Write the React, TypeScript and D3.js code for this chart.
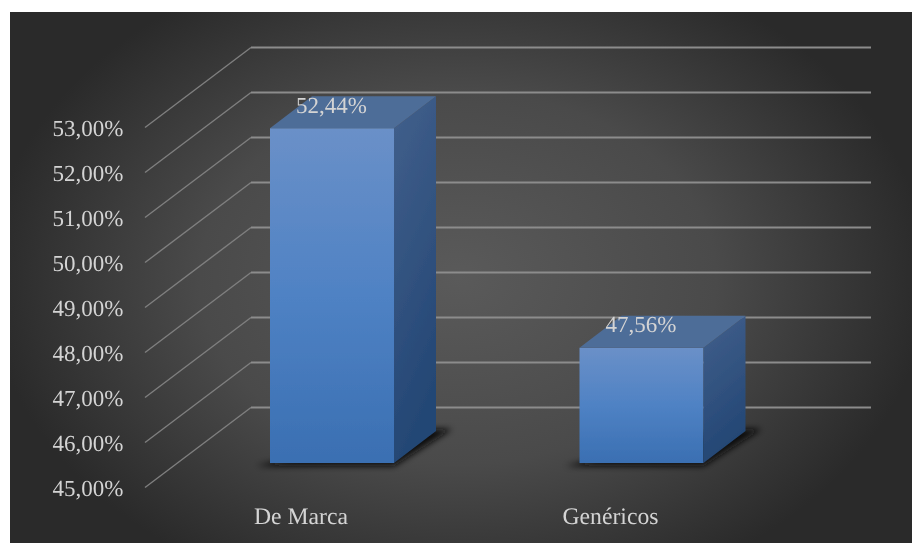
import React from "react";
import * as d3 from "d3";

const categories = ["De Marca", "Genéricos"];
const values = [52.44, 47.56];
const valueLabels = ["52,44%", "47,56%"];
const yTicks = [45, 46, 47, 48, 49, 50, 51, 52, 53];
const barLeft = [270, 579.5];

const W = 912, H = 543;
const font = "'Liberation Serif','Times New Roman',serif";

export default function App() {
  const yFront = d3.scaleLinear().domain([45, 53]).range([487.5, 127.5]);
  const yBack = d3.scaleLinear().domain([45, 53]).range([407.5, 47.5]);
  const yBar = d3.scaleLinear().domain([45, 53]).range([463, 103]);
  const bw = 124, dx = 42, dy = 32;
  const tickFmt = (t: number) => t.toFixed(2).replace(".", ",") + "%";
  return (
    <svg width={W} height={H} style={{ position: "absolute", left: 0, top: 0 }} textRendering="geometricPrecision">
      <defs>
        <radialGradient id="bg" gradientUnits="userSpaceOnUse" cx={458} cy={278} r={470} gradientTransform="translate(458 278) scale(1 0.72) translate(-458 -278)">
          <stop offset="0" stopColor="#5a5a5a" />
          <stop offset="0.55" stopColor="#4a4a4a" />
          <stop offset="1" stopColor="#2a2a2a" />
        </radialGradient>
        <linearGradient id="front" x1="0" y1="0" x2="0" y2="1">
          <stop offset="0" stopColor="#6a90c8" />
          <stop offset="0.5" stopColor="#4f82c4" />
          <stop offset="1" stopColor="#3a6fb2" />
        </linearGradient>
        <linearGradient id="side" x1="0" y1="0" x2="0.25" y2="1">
          <stop offset="0" stopColor="#42608c" />
          <stop offset="1" stopColor="#234674" />
        </linearGradient>
        <filter id="blur" x="-20%" y="-50%" width="140%" height="200%">
          <feGaussianBlur stdDeviation="3" />
        </filter>
        <filter id="soft" x="-2%" y="-2%" width="104%" height="104%">
          <feGaussianBlur stdDeviation="0.45" />
        </filter>
      </defs>
      <rect x={10} y={12} width={W - 10} height={H - 12} fill="url(#bg)" />
      <g filter="url(#soft)">
        {yTicks.map((t) => (
          <g key={t} fill="none">
            <path d={d3.line()([[145, yFront(t)], [251, yBack(t)]]) || ""} stroke="#7f7f7f" strokeWidth={1.4} />
            <path d={d3.line()([[251, yBack(t)], [871, yBack(t)]]) || ""} stroke="#8c8c8c" strokeWidth={1.8} />
          </g>
        ))}
        {yTicks.map((t) => (
          <text key={t} x={123.5} y={yFront(t) + 8} textAnchor="end" fontFamily={font} fontSize={23} fill="#d4d4d4">
            {tickFmt(t)}
          </text>
        ))}
        {categories.map((c, i) => {
          const x0 = barLeft[i];
          const top = yBar(values[i]);
          const base = yBar(45);
          return (
            <g key={c}>
              <path
                d={d3.line()([[x0 - 14, base + 3], [x0 + bw, base + 3], [x0 + bw + dx + 16, base - dy - 2], [x0 + bw + 20, base - dy - 2]]) + "Z"}
                fill="#0e0e0e"
                filter="url(#blur)"
              />
              <rect x={x0} y={top} width={bw} height={base - top} fill="url(#front)" />
              <path
                d={d3.line()([[x0 + bw, top], [x0 + bw + dx, top - dy], [x0 + bw + dx, base - dy], [x0 + bw, base]]) + "Z"}
                fill="url(#side)"
              />
              <path
                d={d3.line()([[x0, top], [x0 + dx, top - dy], [x0 + bw + dx, top - dy], [x0 + bw, top]]) + "Z"}
                fill="#4e6d98"
              />
              <text x={x0 + 61.5} y={top - 15.5} textAnchor="middle" fontFamily={font} fontSize={23} fill="#d4d4d4">
                {valueLabels[i]}
              </text>
              <text x={x0 + 31} y={524} textAnchor="middle" fontFamily={font} fontSize={23.7} fill="#d4d4d4">
                {c}
              </text>
            </g>
          );
        })}
      </g>
    </svg>
  );
}
